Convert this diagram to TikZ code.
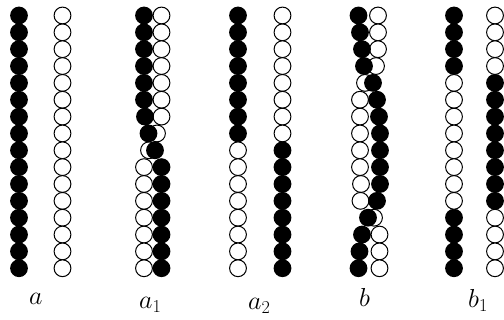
\RequirePackage{fix-cm}
\documentclass[tikz,border=0pt]{standalone}
\usepackage{amsmath}
\usepackage{tikz}

\begin{document}
\begin{tikzpicture}[
  x=1pt, y=-1pt,
  full/.style={fill=black},
  hollow/.style={draw=black, fill=white, line width=1pt},
  letter/.style={inner sep=0pt, anchor=base west, font=\fontsize{26}{30}\selectfont},
]
  \useasboundingbox[fill=white] (0,0) rectangle (504,320);

  % a
  \foreach \i in {0,...,15} {
    \path[full] (19,{15.5+16.85*\i}) circle[radius=8.9pt];
    \path[hollow] (62.5,{15.5+16.85*\i}) circle[radius=8.4pt];
  }

  % a_1
  \foreach \x [count=\i from 0] in {161.5,161.5,161.5,161.5,161.5,161.5,161.5,157,
                                    149,144,144,144,144,144,144,144}
    \path[hollow] (\x,{15.5+16.85*\i}) circle[radius=8.4pt];
  \foreach \x [count=\i from 0] in {144,144,144,144,144,144,145,148.5,
                                    155,161.5,161.5,161.5,161.5,161.5,161.5,161.5}
    \path[full] (\x,{15.5+16.85*\i}) circle[radius=8.9pt];

  % a_2
  \foreach \i in {0,...,7} {
    \path[full] (238,{15.5+16.85*\i}) circle[radius=8.9pt];
    \path[hollow] (282.5,{15.5+16.85*\i}) circle[radius=8.4pt];
  }
  \foreach \i in {8,...,15} {
    \path[hollow] (238,{15.5+16.85*\i}) circle[radius=8.4pt];
    \path[full] (282.5,{15.5+16.85*\i}) circle[radius=8.9pt];
  }

  % b
  \foreach \x [count=\i from 0] in {378,378,378,376,365,360,360,360,
                                    360,360,361,360.5,374,379.5,379.5,379.5}
    \path[hollow] (\x,{15.5+16.85*\i}) circle[radius=8.4pt];
  \foreach \x [count=\i from 0] in {358.5,360,362,364,373,377,379,380,
                                    380,380,380,377,368,362,359.5,358.5}
    \path[full] (\x,{15.5+16.85*\i}) circle[radius=8.9pt];

  % b_1
  \foreach \i in {0,1,2,3,12,13,14,15} {
    \path[full] (454,{15.5+16.85*\i}) circle[radius=8.9pt];
    \path[hollow] (495,{15.5+16.85*\i}) circle[radius=8.4pt];
  }
  \foreach \i in {4,...,11} {
    \path[hollow] (454,{15.5+16.85*\i}) circle[radius=8.4pt];
    \path[full] (495,{15.5+16.85*\i}) circle[radius=8.9pt];
  }

  \node[letter] (lbla) at (29,305) {$a$};
  \node[letter] (lblaone) at (139,309) {$a_1$};
  \node[letter] (lblatwo) at (248,310) {$a_2$};
  \node[letter] (lblb) at (359,307) {$b$};
  \node[letter] (lblbone) at (468,308) {$b_1$};
\end{tikzpicture}
\end{document}
